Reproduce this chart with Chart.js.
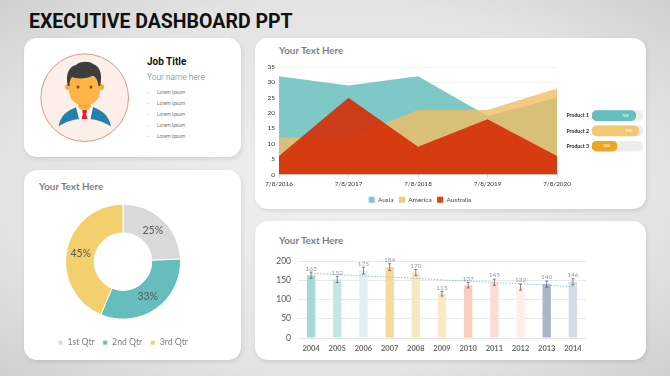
<!DOCTYPE html>
<html>
<head>
<meta charset="utf-8">
<title>Executive Dashboard</title>
<script src="https://cdn.jsdelivr.net/npm/chart.js@4"></script>
<style>
    html, body { margin: 0; padding: 0; }
    body {
        width: 670px; height: 376px; position: relative; overflow: hidden;
        background: radial-gradient(ellipse at 50% 50%, #f0f0f0 0%, #e3e3e3 70%, #cfcfcf 100%);
        font-family: Lato, sans-serif;
    }
    .card {
        position: absolute; background: #fff; border-radius: 13px;
        box-shadow: 1px 2px 4px rgba(0,0,0,0.10);
    }
    canvas { position: absolute; }
    .title {
        position: absolute; left: 29px; top: 10px; font: 700 19.5px Roboto, sans-serif;
        color: #111; white-space: nowrap;
    }
    .card-title {
        position: absolute; font: 700 9.8px Lato, sans-serif; color: #7f7f7f; white-space: nowrap;
    }
    .job { position: absolute; left: 147px; top: 56px; font: 700 10px Roboto, sans-serif; color: #111; }
    .name { position: absolute; left: 147px; top: 72px; font: 300 8.4px Roboto, sans-serif; color: #777; }
    .lorem { position: absolute; left: 147px; font: 400 4.8px Roboto, sans-serif; color: #777; white-space: nowrap; }
    .lorem span { display: inline-block; width: 10px; }
    svg { position: absolute; }
</style>
</head>
<body>
<div class="title">EXECUTIVE DASHBOARD PPT</div>

<div class="card" style="left:24px;top:38px;width:217px;height:119px"></div>
<div class="card" style="left:24px;top:170px;width:217px;height:190px"></div>
<div class="card" style="left:255px;top:38px;width:391px;height:171px"></div>
<div class="card" style="left:255px;top:221px;width:391px;height:139px"></div>

<svg style="left:40px;top:53px" width="90" height="90" viewBox="0 0 90 90">
    <circle cx="44.7" cy="44.7" r="43.8" fill="#fcefea" stroke="#d99a85" stroke-width="1"/>
    <path d="M18.5 73.5 C20.5 62 28 57 37 54 L53 54 C61 57 69 62 71 73.5 C56 63 33 63 18.5 73.5 Z" fill="#2481ab"/>
    <path d="M36 54 L53 54 L50.5 66 L39 66 Z" fill="#fff"/>
    <rect x="38.5" y="46" width="12" height="9" fill="#f5a63a"/>
    <path d="M38.5 52 Q44.5 57 50.5 52 L50.5 55 L45 59 L38.5 55 Z" fill="#fcb23f"/>
    <path d="M43 57 L46 57 L47 59 L46 60.5 L47.5 66 L41.5 66 L43 60.5 L42 59 Z" fill="#ee1c25"/>
    <circle cx="28" cy="34" r="3" fill="#f9a93a"/>
    <circle cx="61" cy="34" r="3" fill="#f9a93a"/>
    <path d="M29 24 L60 24 L60 39 Q58 52 44.5 52 Q31 52 29 39 Z" fill="#fdb345"/>
    <path d="M28 33 C25 22 29 13 36 12 C40 8 50 8 53 11 C60 13 63 22 60 33 L58.5 33 C58 27 56 24 53 23 C46 26 36 26 32 24 C30 26 29.5 29 29.5 33 Z" fill="#3d3d3d"/>
    <circle cx="38" cy="34" r="1.5" fill="#8a4a10"/>
    <circle cx="51" cy="34" r="1.5" fill="#8a4a10"/>
</svg>
<div class="job">Job Title</div>
<div class="name">Your name here</div>
<div class="lorem" style="top:90px"><span>-</span>Lorem Ipsum</div>
<div class="lorem" style="top:101px"><span>-</span>Lorem Ipsum</div>
<div class="lorem" style="top:112px"><span>-</span>Lorem Ipsum</div>
<div class="lorem" style="top:123px"><span>-</span>Lorem Ipsum</div>
<div class="lorem" style="top:134px"><span>-</span>Lorem Ipsum</div>

<div class="card-title" style="left:39px;top:180px">Your Text Here</div>
<div class="card-title" style="left:279px;top:44px">Your Text Here</div>
<div class="card-title" style="left:279px;top:234px">Your Text Here</div>

<canvas id="donutChart" width="198" height="187" style="left:24px;top:170px"></canvas>
<canvas id="areaChart" width="330" height="175" style="left:255px;top:38px"></canvas>
<canvas id="productChart" width="90" height="60" style="left:556px;top:100px"></canvas>
<canvas id="barChart" width="391" height="146" style="left:255px;top:221px"></canvas>

<script>
    const quarterLabels = ['1st Qtr', '2nd Qtr', '3rd Qtr'];
    const quarterValues = [25, 33, 45];
    const quarterColors = ['#d9d9d9', '#66bdbd', '#f3cf6e'];

    const areaDates = ['7/8/2016', '7/8/2017', '7/8/2018', '7/8/2019', '7/8/2020'];
    const ausia = [32, 29, 32, 19, 25];
    const america = [12, 12, 21, 21, 28];
    const australia = [6, 25, 9, 18, 6];

    const productLabels = ['Product 1', 'Product 2', 'Product 3'];
    const productValues = [86, 92, 49];
    const productTexts = ['70%', '90%', '50%'];
    const productTrack = [100, 100, 100];
    const productColors = ['#66bdbd', '#f4c873', '#eba721'];

    const years = ['2004', '2005', '2006', '2007', '2008', '2009', '2010', '2011', '2012', '2013', '2014'];
    const yearValues = [163, 152, 175, 184, 170, 115, 137, 145, 132, 140, 146];
    const yearErrors = [8, 8, 9, 9, 8, 6, 7, 8, 8, 8, 8];
    const yearTrend = [168, 165, 161, 158, 155, 151, 148, 144, 141, 137, 133];
    const yearColors = ['#a3d9d6', '#c3e6e4', '#dff1f0', '#f7d99e', '#fae6c0', '#fbeac8', '#f7cebd', '#fbded3', '#fdeeea', '#a9b6c9', '#d7dce7'];

    const FONT = 'Lato, sans-serif';

    // percent text on each doughnut slice
    const sliceLabels = {
        id: 'sliceLabels',
        afterDatasetsDraw(chart) {
            const ctx = chart.ctx;
            ctx.save();
            ctx.font = '10.5px ' + FONT;
            ctx.fillStyle = '#595959';
            ctx.textAlign = 'center';
            ctx.textBaseline = 'middle';
            chart.getDatasetMeta(0).data.forEach((arc, i) => {
                const pos = arc.tooltipPosition();
                ctx.fillText(quarterValues[i] + '%', pos.x, pos.y);
            });
            ctx.restore();
        }
    };

    new Chart(document.getElementById('donutChart'), {
        type: 'doughnut',
        data: {
            labels: quarterLabels,
            datasets: [{ data: quarterValues, backgroundColor: quarterColors, borderColor: '#fff', borderWidth: 1 }]
        },
        options: {
            responsive: false,
            animation: false,
            radius: 57.5,
            cutout: '50%',
            layout: { padding: { top: 23, bottom: 0 } },
            plugins: {
                tooltip: { enabled: false },
                legend: {
                    position: 'bottom',
                    labels: { boxWidth: 5, boxHeight: 5, padding: 8, color: '#7f7f7f', font: { size: 8.7, family: FONT } }
                }
            }
        },
        plugins: [sliceLabels]
    });

    new Chart(document.getElementById('areaChart'), {
        type: 'line',
        data: {
            labels: areaDates,
            datasets: [
                { label: 'Ausia', data: ausia, order: 3, fill: 'origin', backgroundColor: 'rgba(94,186,186,0.8)', borderColor: 'rgba(94,186,186,0.8)' },
                { label: 'America', data: america, order: 2, fill: 'origin', backgroundColor: 'rgba(240,190,100,0.8)', borderColor: 'rgba(240,190,100,0.8)' },
                { label: 'Australia', data: australia, order: 1, fill: 'origin', backgroundColor: 'rgba(214,44,6,0.9)', borderColor: 'rgba(214,44,6,0.9)' }
            ]
        },
        options: {
            responsive: false,
            animation: false,
            elements: { line: { tension: 0, borderWidth: 0 }, point: { radius: 0 } },
            layout: { padding: { top: 29, bottom: 0 } },
            scales: {
                x: {
                    offset: false,
                    // room on the right without pulling the legend off centre
                    afterFit(scale) { scale.paddingRight = 28; },
                    grid: { display: true, drawOnChartArea: false, color: '#d9d9d9', tickLength: 3 },
                    border: { color: '#d9d9d9' },
                    ticks: { color: '#333', font: { size: 6.3, family: FONT }, maxRotation: 0, autoSkip: false, padding: 3 }
                },
                y: {
                    min: 0, max: 35,
                    afterFit(scale) { scale.width = 24; },
                    grid: { color: '#f3f3f3', drawTicks: false },
                    border: { display: false },
                    ticks: { stepSize: 5, color: '#333', font: { size: 6.5, family: FONT }, padding: 4 }
                }
            },
            plugins: {
                tooltip: { enabled: false },
                legend: {
                    position: 'bottom',
                    labels: {
                        boxWidth: 6, boxHeight: 6, padding: 5.5, color: '#444', font: { size: 6.5, family: FONT },
                        sort: (a, b) => a.datasetIndex - b.datasetIndex
                    }
                }
            }
        }
    });

    // value text inside each product pill
    const pillLabels = {
        id: 'pillLabels',
        afterDatasetsDraw(chart) {
            const ctx = chart.ctx;
            const xScale = chart.scales.x;
            ctx.save();
            ctx.font = '3.5px ' + FONT;
            ctx.fillStyle = '#fff';
            ctx.textAlign = 'right';
            ctx.textBaseline = 'middle';
            chart.getDatasetMeta(1).data.forEach((bar, i) => {
                ctx.fillText(productTexts[i], xScale.getPixelForValue(productValues[i]) - 7, bar.y);
            });
            ctx.restore();
        }
    };

    new Chart(document.getElementById('productChart'), {
        type: 'bar',
        data: {
            labels: productLabels,
            datasets: [
                { data: productTrack, order: 2, backgroundColor: '#ededed', borderRadius: 5, borderSkipped: false, barThickness: 10, grouped: false },
                { data: productValues, order: 1, backgroundColor: productColors, borderRadius: 5, borderSkipped: false, barThickness: 10, grouped: false }
            ]
        },
        options: {
            indexAxis: 'y',
            responsive: false,
            animation: false,
            layout: { padding: { top: 8, bottom: 4, right: 3, left: 0 } },
            scales: {
                x: { min: 0, max: 100, display: false },
                y: {
                    afterFit(scale) { scale.width = 36; },
                    grid: { display: false, drawTicks: false },
                    border: { display: false },
                    ticks: { color: '#222', font: { size: 5.2, weight: '700', family: FONT }, padding: 3 }
                }
            },
            plugins: { legend: { display: false }, tooltip: { enabled: false } }
        },
        plugins: [pillLabels]
    });

    // error whiskers and value text above each bar
    const barAnnotations = {
        id: 'barAnnotations',
        afterDatasetsDraw(chart) {
            const ctx = chart.ctx;
            const yScale = chart.scales.y;
            const meta = chart.getDatasetMeta(1);
            ctx.save();
            meta.data.forEach((bar, i) => {
                const top = yScale.getPixelForValue(yearValues[i] + yearErrors[i]);
                const bottom = yScale.getPixelForValue(yearValues[i] - yearErrors[i]);
                ctx.strokeStyle = '#666';
                ctx.lineWidth = 0.8;
                ctx.beginPath();
                ctx.moveTo(bar.x, top);
                ctx.lineTo(bar.x, bottom);
                ctx.moveTo(bar.x - 1.5, top);
                ctx.lineTo(bar.x + 1.5, top);
                ctx.moveTo(bar.x - 1.5, bottom);
                ctx.lineTo(bar.x + 1.5, bottom);
                ctx.stroke();
                ctx.fillStyle = '#999';
                ctx.font = '6.5px ' + FONT;
                ctx.textAlign = 'center';
                ctx.textBaseline = 'bottom';
                ctx.fillText(yearValues[i], bar.x, top - 0.5);
            });
            ctx.restore();
        }
    };

    new Chart(document.getElementById('barChart'), {
        type: 'bar',
        data: {
            labels: years,
            datasets: [
                { type: 'line', data: yearTrend, order: 1, borderColor: '#7fd0cc', borderWidth: 1, borderDash: [1.5, 1.5], pointRadius: 0, tension: 0 },
                { type: 'bar', data: yearValues, order: 2, backgroundColor: yearColors, categoryPercentage: 1, barPercentage: 0.32 }
            ]
        },
        options: {
            responsive: false,
            animation: false,
            layout: { padding: { top: 40, bottom: 8, right: 60 } },
            scales: {
                x: {
                    grid: { display: false, drawTicks: false },
                    border: { color: '#e6e6e6' },
                    ticks: { color: '#6a6a6a', font: { size: 7.5, weight: '700', family: FONT }, padding: 6, maxRotation: 0, autoSkip: false }
                },
                y: {
                    min: 0, max: 200,
                    afterFit(scale) { scale.width = 43; },
                    grid: { color: '#e9e9e9', drawTicks: false },
                    border: { display: false },
                    ticks: { stepSize: 50, color: '#555', font: { size: 8.5, family: FONT }, padding: 7 }
                }
            },
            plugins: { legend: { display: false }, tooltip: { enabled: false } }
        },
        plugins: [barAnnotations]
    });
</script>
</body>
</html>
